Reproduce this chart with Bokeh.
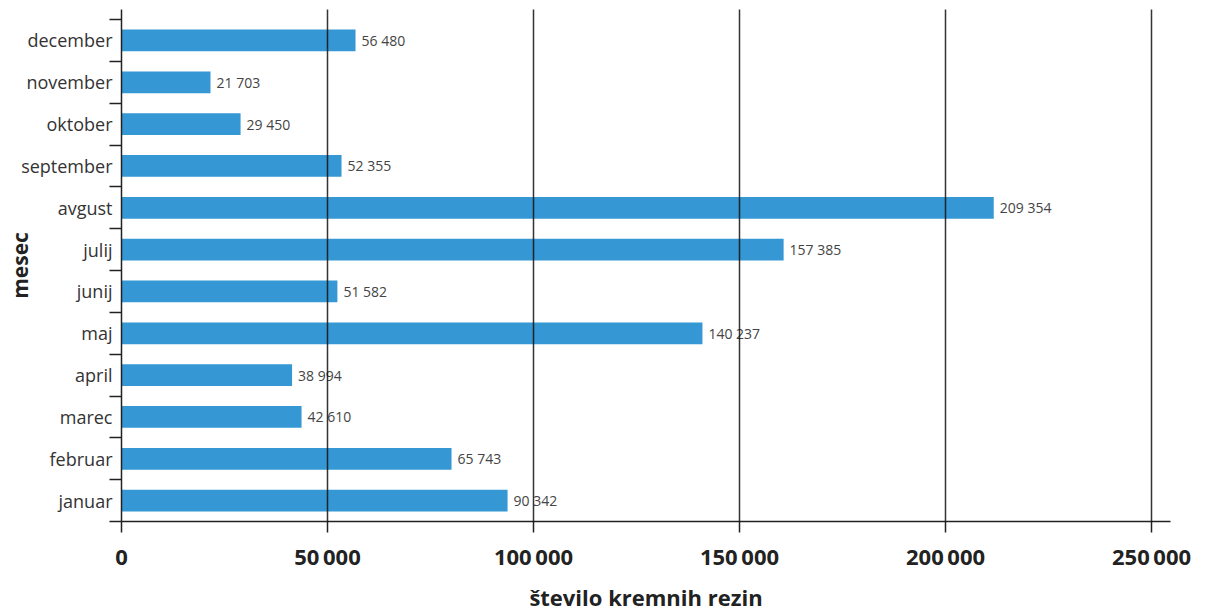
from bokeh.plotting import figure
from bokeh.models import ColumnDataSource, FixedTicker, Range1d
from bokeh.embed import file_html
from bokeh.resources import INLINE
from bokeh.core.properties import value

months = ["januar", "februar", "marec", "april", "maj", "junij",
          "julij", "avgust", "september", "oktober", "november", "december"]
# bar lengths as drawn in the picture
bar_values = [93700, 80100, 43700, 41400, 141000, 52400,
              160700, 211700, 53400, 28900, 21600, 56800]
# value labels printed next to the bars
value_labels = ["90 342", "65 743", "42 610", "38 994", "140 237", "51 582",
                "157 385", "209 354", "52 355", "29 450", "21 703", "56 480"]
x_ticks = [0, 50000, 100000, 150000, 200000, 250000]
x_tick_labels = ["0", "50\u2009000", "100\u2009000", "150\u2009000", "200\u2009000", "250\u2009000"]

FONT = "Open Sans"
W, H = 1205, 614
LEFT, RIGHT, TOP, BOTTOM = 121, 35, 9, 92
X_END = 254600
Y_END = 12.24

pos = [i + 0.5 for i in range(len(months))]
src = ColumnDataSource(dict(y=pos, v=bar_values, lab=value_labels, m=months))

p = figure(width=W, height=H, output_backend="svg", toolbar_location=None,
           x_range=Range1d(0, X_END), y_range=Range1d(0, Y_END))
p.min_border_left = LEFT
p.min_border_right = RIGHT
p.min_border_top = TOP
p.min_border_bottom = BOTTOM
p.outline_line_color = None
p.background_fill_color = "white"

p.hbar(y="y", right="v", left=0, height=0.52, source=src,
       fill_color="#3597d3", line_color=None)
p.text(x="v", y="y", text="lab", source=src, x_offset=6,
       text_baseline="middle", text_align="left",
       text_font=value(FONT), text_font_size="14px", text_color="#444444")

# x axis
xa = p.xaxis[0]
xa.ticker = FixedTicker(ticks=x_ticks)
xa.major_label_overrides = {t: l for t, l in zip(x_ticks, x_tick_labels)}
xa.axis_line_color = "#222222"
xa.axis_line_width = 1.5
xa.major_tick_line_color = "#222222"
xa.major_tick_line_width = 1.5
xa.major_tick_out = 11
xa.major_tick_in = 0
xa.minor_tick_line_color = None
xa.major_label_text_font = FONT
xa.major_label_text_font_size = "22px"
xa.major_label_text_font_style = "bold"
xa.major_label_text_color = "#222222"
xa.major_label_standoff = 8
xa.axis_label = "število kremnih rezin"
xa.axis_label_text_font = FONT
xa.axis_label_text_font_size = "22px"
xa.axis_label_text_font_style = "bold"
xa.axis_label_text_color = "#222222"
xa.axis_label_standoff = 8

# y axis
ya = p.yaxis[0]
ya.ticker = FixedTicker(ticks=pos, minor_ticks=list(range(0, 13)))
ya.major_label_overrides = {pp: m for pp, m in zip(pos, months)}
ya.axis_line_color = "#222222"
ya.axis_line_width = 1.5
ya.major_tick_line_color = None
ya.major_tick_out = 0
ya.major_tick_in = 0
ya.minor_tick_line_color = "#222222"
ya.minor_tick_line_width = 1.5
ya.minor_tick_out = 12
ya.minor_tick_in = 0
ya.major_label_text_font = FONT
ya.major_label_text_font_size = "18px"
ya.major_label_text_color = "#333333"
ya.major_label_standoff = -3
ya.axis_label = "mesec"
ya.axis_label_text_font = FONT
ya.axis_label_text_font_size = "21px"
ya.axis_label_text_font_style = "bold"
ya.axis_label_text_color = "#222222"
ya.axis_label_standoff = -16

p.ygrid.grid_line_color = None
p.xgrid.ticker = FixedTicker(ticks=x_ticks[1:])
p.xgrid.grid_line_color = "#111111"
p.xgrid.grid_line_width = 1.5
p.xgrid.grid_line_alpha = 0.85
p.xgrid.level = "overlay"

open("out.html", "w").write(file_html(p, INLINE))
